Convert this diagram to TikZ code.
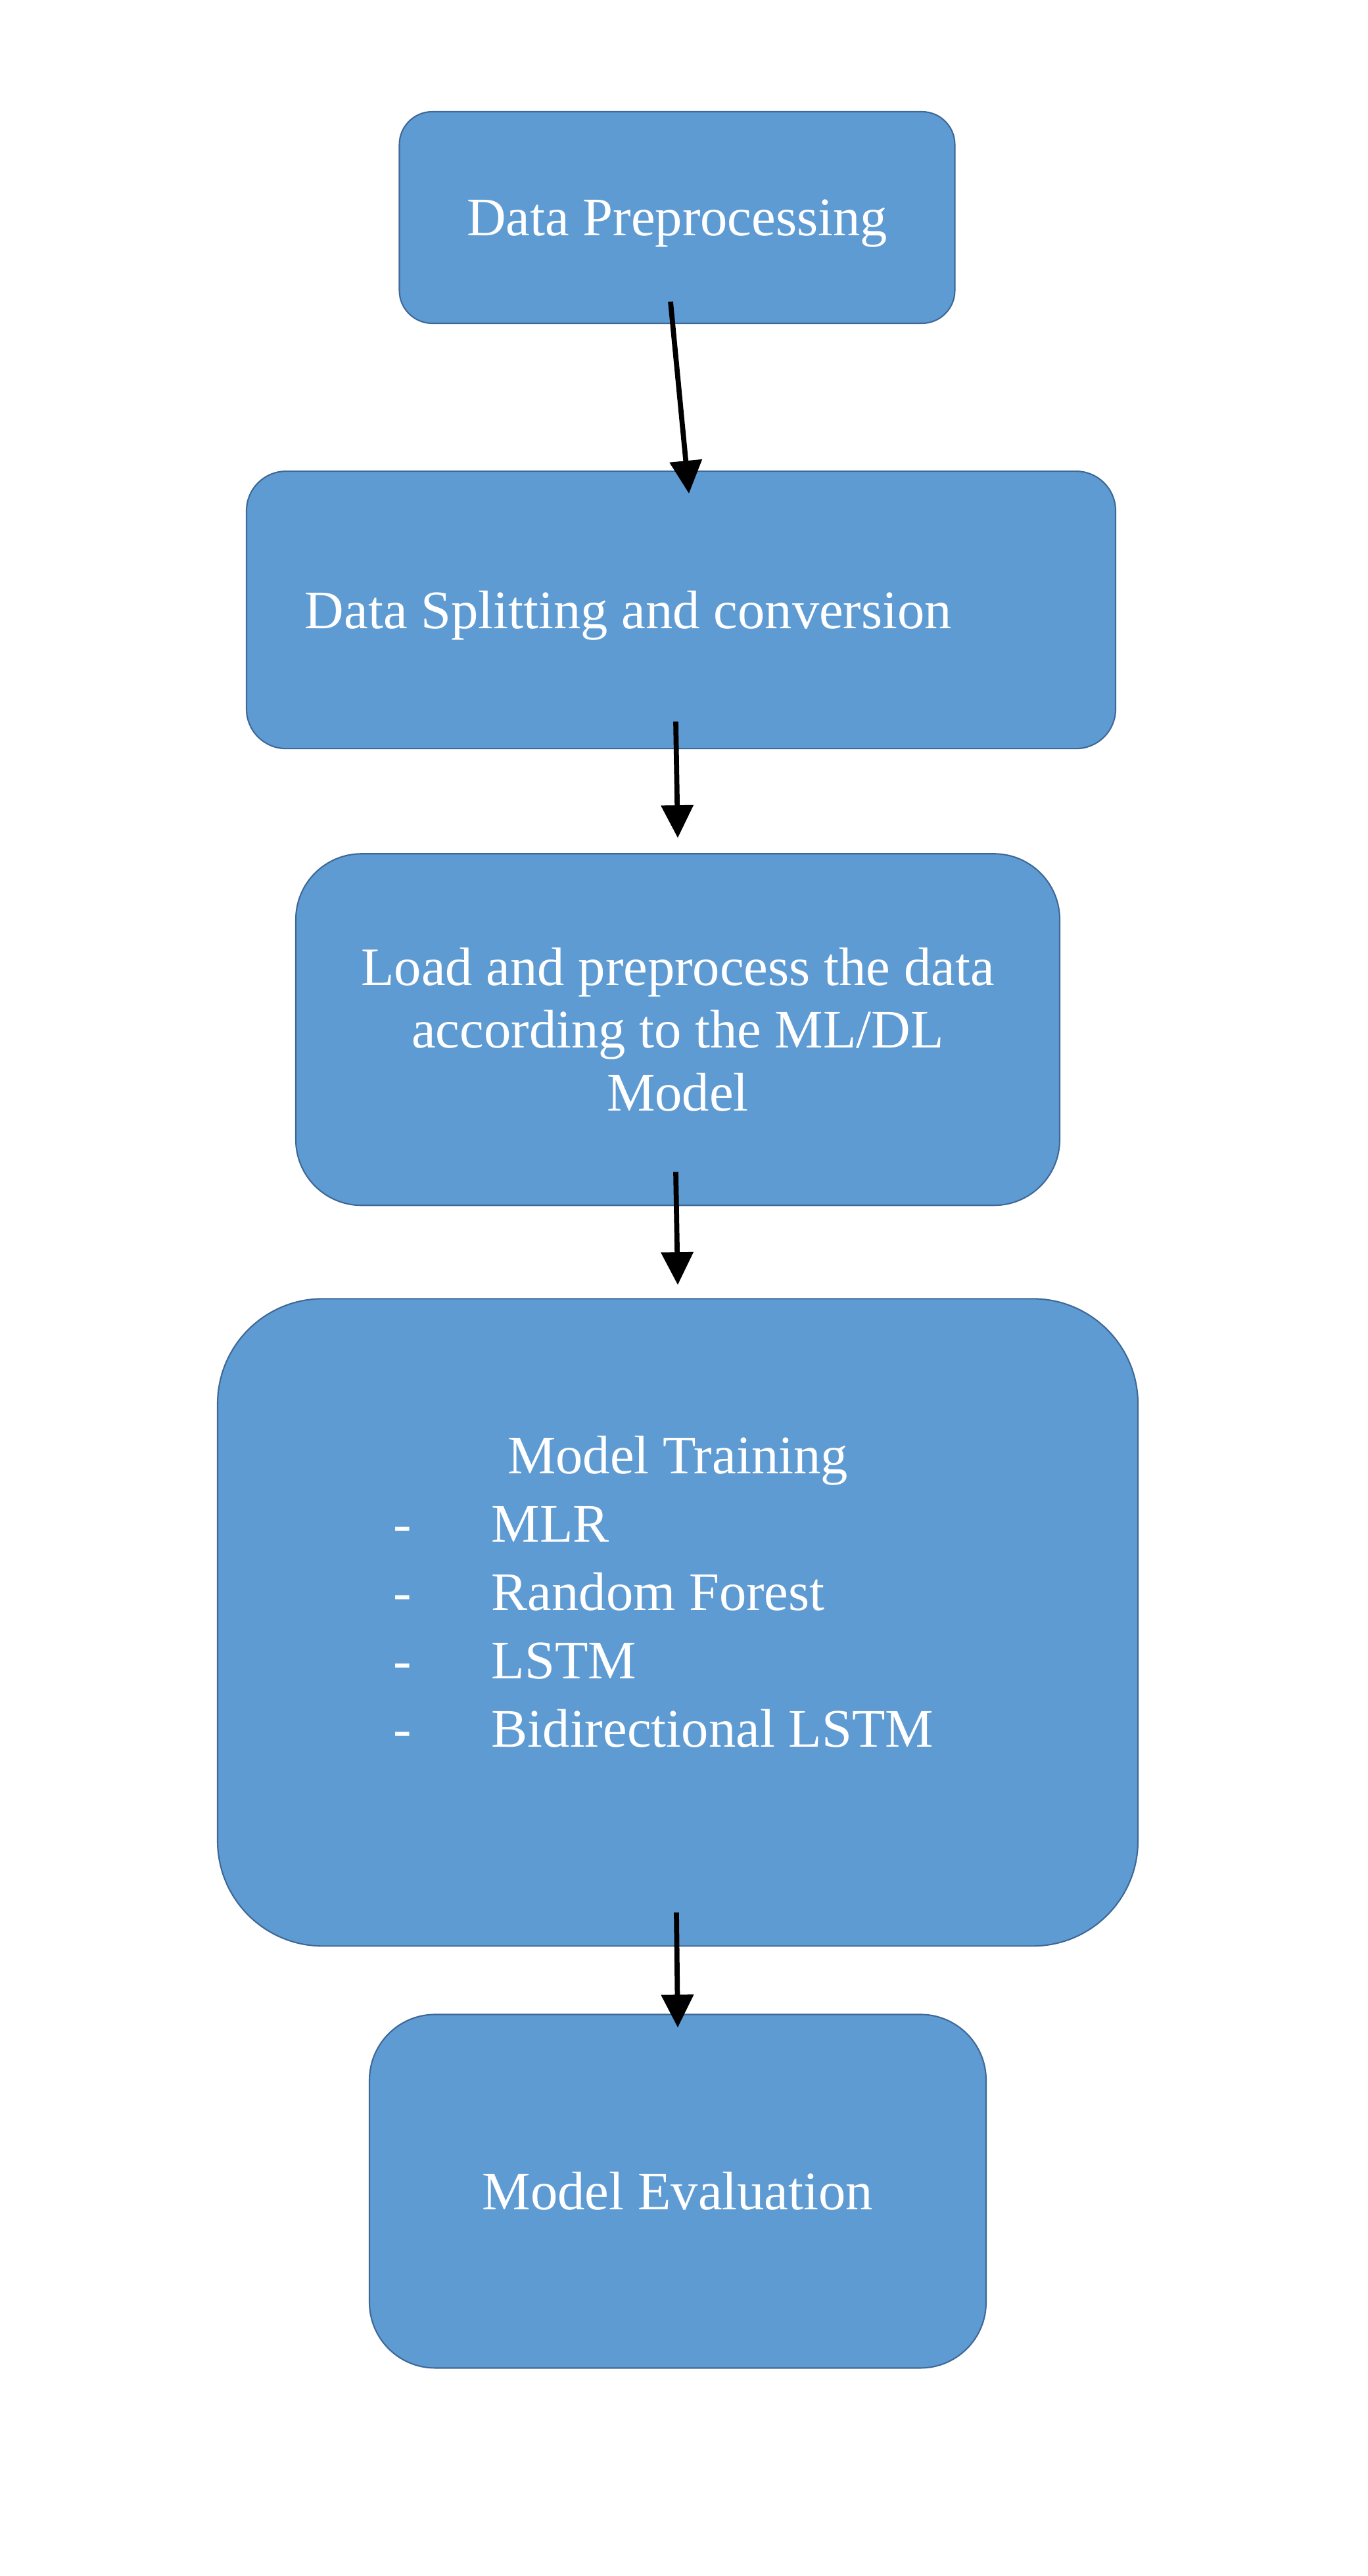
\documentclass[tikz,border=0pt]{standalone}
\usepackage{fontspec}
\setmainfont{Liberation Serif}
\usetikzlibrary{positioning,arrows.meta}
\definecolor{boxfill}{RGB}{95,155,211}
\definecolor{boxline}{RGB}{62,104,150}
\tikzset{
  stage/.style={draw=boxline, fill=boxfill, line width=0.6pt, text=white,
    align=center, inner sep=0pt, font=\fontsize{23.5}{27.3}\selectfont},
  flow/.style={-{Triangle[width=0.48cm,length=0.5cm]}, line width=2.2pt}
}
\begin{document}
\begin{tikzpicture}

  \useasboundingbox (0,0) rectangle (20.8,-39.2);

  \node (pre) [stage, rounded corners=0.5cm, minimum width=8.45cm, minimum height=3.22cm, text depth=0pt] at (10.3,-3.31) {Data Preprocessing};
  \node (split) [stage, rounded corners=0.6cm, below=2.23cm of pre, xshift=0.06cm, minimum width=13.22cm, minimum height=4.22cm, text depth=0pt] {Data Splitting and conversion\hspace*{1.6cm}\mbox{}};
  \node (load) [stage, rounded corners=1cm, below=1.58cm of split, xshift=-0.05cm, minimum width=11.62cm, minimum height=5.35cm] {Load and preprocess the data\\according to the ML/DL\\Model};
  \node (train) [stage, rounded corners=1.6cm, below=1.4cm of load, minimum width=14cm, minimum height=9.85cm] {\renewcommand{\arraystretch}{1.084}%
    \begin{tabular}{@{}c@{\hspace{1.22cm}}l@{\hspace{0.44cm}}}
      \multicolumn{2}{@{}c@{}}{Model Training}\\
      - & MLR\\
      - & Random Forest\\
      - & LSTM\\
      - & Bidirectional LSTM\\[0.78cm]
    \end{tabular}};
  \node (eval) [stage, rounded corners=1cm, below=1.02cm of train, minimum width=9.38cm, minimum height=5.38cm] {Model Evaluation};

  \draw [flow] ([xshift=-0.1cm, yshift=0.34cm]pre.south) -- ([xshift=0.12cm, yshift=-0.35cm]split.north);
  \draw [flow] ([xshift=-0.08cm, yshift=0.42cm]split.south) -- ([yshift=0.23cm]load.north);
  \draw [flow] ([xshift=-0.03cm, yshift=0.52cm]load.south) -- ([yshift=0.2cm]train.north);
  \draw [flow] ([xshift=-0.02cm, yshift=0.52cm]train.south) -- ([yshift=-0.21cm]eval.north);

\end{tikzpicture}
\end{document}
